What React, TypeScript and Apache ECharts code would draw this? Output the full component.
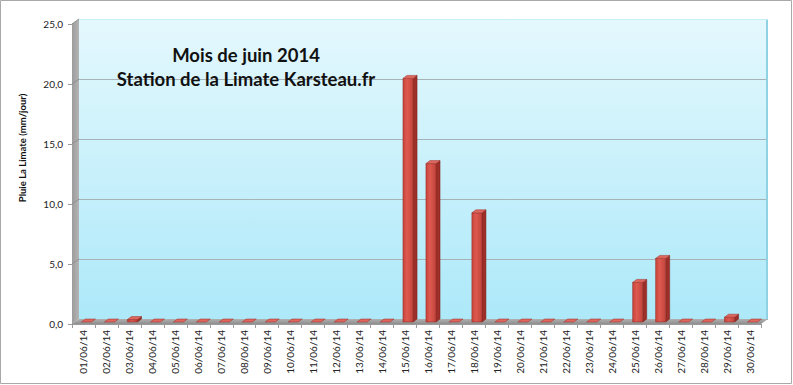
import React, { useEffect, useRef } from "react";
import * as echarts from "echarts";

const dates = [
  "01/06/14", "02/06/14", "03/06/14", "04/06/14", "05/06/14", "06/06/14", "07/06/14", "08/06/14", "09/06/14", "10/06/14",
  "11/06/14", "12/06/14", "13/06/14", "14/06/14", "15/06/14", "16/06/14", "17/06/14", "18/06/14", "19/06/14", "20/06/14",
  "21/06/14", "22/06/14", "23/06/14", "24/06/14", "25/06/14", "26/06/14", "27/06/14", "28/06/14", "29/06/14", "30/06/14",
];
const rain = [
  0, 0, 0.2, 0, 0, 0, 0, 0, 0, 0,
  0, 0, 0, 0, 20.3, 13.2, 0, 9.1, 0, 0,
  0, 0, 0, 0, 3.3, 5.3, 0, 0, 0.4, 0,
];
const yTicks = [0, 5, 10, 15, 20, 25];
const titleLines = ["Mois de juin 2014", "Station de la Limate Karsteau.fr"];
const yAxisName = "Pluie La Limate (mm/jour)";

const W = 793;
const H = 385;
// front plane
const FL = 72, FR = 761, FT = 24, FB = 324;
// depth offset of the back wall
const DX = 7, DY = 5;

export default function App() {
  const ref = useRef<HTMLDivElement>(null);
  useEffect(() => {
    if (!ref.current) return;
    const chart = echarts.init(ref.current, null, { renderer: "svg" });
    const yMax = yTicks[yTicks.length - 1];
    const yPx = (v: number) => FB - ((FB - FT) * v) / yMax;

    const wallLines = yTicks.slice(1).map((t) => ({
      type: "line",
      z: 3,
      shape: { x1: FL, y1: yPx(t), x2: FL + DX, y2: yPx(t) - DY },
      style: { stroke: "#8e8e8e", lineWidth: 1 },
    }));

    const option: any = {
      animation: false,
      backgroundColor: "#ffffff",
      title: {
        text: titleLines.join("\n"),
        left: 241,
        top: 38,
        textAlign: "center",
        textStyle: {
          fontFamily: "Lato",
          fontWeight: "bold",
          fontSize: 18.5,
          lineHeight: 24,
          color: "#111111",
        },
      },
      grid: [
        {
          left: FL,
          top: FT,
          width: FR - FL,
          height: FB - FT,
          containLabel: false,
        },
        {
          left: FL + DX,
          top: FT - DY,
          width: FR - FL,
          height: FB - FT,
          show: true,
          borderWidth: 0,
          backgroundColor: new echarts.graphic.LinearGradient(0, 0, 0, 1, [
            { offset: 0, color: "#e4f8fd" },
            { offset: 1, color: "#ade9f9" },
          ]),
        },
      ],
      xAxis: [
        {
          type: "category",
          gridIndex: 0,
          data: dates,
          boundaryGap: true,
          axisLine: { show: true, lineStyle: { color: "#9a9a9a" } },
          axisTick: { show: true, length: 4, interval: 0, lineStyle: { color: "#9a9a9a" } },
          axisLabel: {
            interval: 0,
            rotate: 90,
            margin: 6,
            fontFamily: "Lato",
            fontSize: 10,
            color: "#222222",
          },
          splitLine: { show: false },
        },
        {
          type: "category",
          gridIndex: 1,
          data: dates,
          show: false,
        },
      ],
      yAxis: [
        {
          type: "value",
          gridIndex: 0,
          min: 0,
          max: yMax,
          interval: 5,
          axisLine: { show: true, lineStyle: { color: "#9a9a9a" } },
          axisTick: { show: true, length: 4, lineStyle: { color: "#9a9a9a" } },
          axisLabel: {
            margin: 9,
            fontFamily: "Lato",
            fontSize: 10,
            color: "#222222",
            formatter: (v: number) => v.toFixed(1).replace(".", ","),
          },
          splitLine: { show: false },
        },
        {
          type: "value",
          gridIndex: 1,
          min: 0,
          max: yMax,
          interval: 5,
          axisLine: { show: false },
          axisTick: { show: false },
          axisLabel: { show: false },
          splitLine: { show: true, lineStyle: { color: "#a6b2b5", width: 1 } },
        },
      ],
      graphic: [
        {
          type: "rect",
          z: -10,
          shape: { x: 0.5, y: 0.5, width: W - 2, height: H - 2 },
          style: { fill: "#ffffff", stroke: "#a8a8a8", lineWidth: 1 },
        },
        {
          type: "polygon",
          z: 2,
          shape: {
            points: [
              [FL, FT],
              [FL + DX, FT - DY],
              [FL + DX, FB - DY],
              [FL, FB],
            ],
          },
          style: {
            fill: new echarts.graphic.LinearGradient(0, 0, 1, 0, [
              { offset: 0, color: "#9c9c9c" },
              { offset: 1, color: "#b4b4b4" },
            ]),
          },
        },
        {
          type: "polygon",
          z: 2,
          shape: {
            points: [
              [FL, FB],
              [FL + DX, FB - DY],
              [FR + DX, FB - DY],
              [FR, FB],
            ],
          },
          style: {
            fill: new echarts.graphic.LinearGradient(0, 0, 0, 1, [
              { offset: 0, color: "#b0b0b0" },
              { offset: 1, color: "#8e8e8e" },
            ]),
          },
        },
        {
          type: "rect",
          z: 2,
          shape: { x: FR + DX - 2, y: FT - DY, width: 2, height: FB - FT },
          style: { fill: "#8fd2e4" },
        },
        {
          type: "line",
          z: 2,
          shape: { x1: FL + DX, y1: FT - DY + 0.5, x2: FR + DX, y2: FT - DY + 0.5 },
          style: { stroke: "#c6eef8", lineWidth: 1 },
        },
        ...wallLines,
        {
          type: "text",
          z: 5,
          x: 22,
          y: 148,
          rotation: Math.PI / 2,
          style: {
            text: yAxisName,
            fontFamily: "Lato",
            fontWeight: "bold",
            fontSize: 9.5,
            fill: "#111111",
            align: "center",
            verticalAlign: "middle",
          },
        },
      ],
      series: [
        {
          type: "custom",
          xAxisIndex: 0,
          yAxisIndex: 0,
          z: 10,
          data: rain.map((v, i) => [i, v]),
          encode: { x: 0, y: 1 },
          renderItem: (params: any, api: any) => {
            const i = api.value(0);
            const v = api.value(1);
            const base = api.coord([i, 0]);
            const top = api.coord([i, v]);
            const bw = api.size([1, 0])[0] * 0.44;
            const ox = 3, oy = -2;
            const dx = 4, dy = 3;
            const x0 = base[0] - bw / 2 + ox;
            const x1 = x0 + bw;
            const yb = base[1] + oy;
            const yt = top[1] + oy;
            const children: any[] = [];
            if (yb - yt > 0.5) {
              children.push({
                type: "polygon",
                shape: { points: [[x1, yt], [x1 + dx, yt - dy], [x1 + dx, yb - dy], [x1, yb]] },
                style: { fill: "#9e2f28", stroke: "#7a221d", lineWidth: 0.5 },
              });
              children.push({
                type: "rect",
                shape: { x: x0, y: yt, width: bw, height: yb - yt },
                style: {
                  fill: new echarts.graphic.LinearGradient(0, 0, 1, 0, [
                    { offset: 0, color: "#c9433a" },
                    { offset: 0.4, color: "#dd5a50" },
                    { offset: 1, color: "#c2423a" },
                  ]),
                  stroke: "#8c2a24",
                  lineWidth: 0.5,
                },
              });
            }
            children.push({
              type: "polygon",
              shape: { points: [[x0, yt], [x1, yt], [x1 + dx, yt - dy], [x0 + dx, yt - dy]] },
              style: { fill: "#e0675d", stroke: "#9a2f28", lineWidth: 0.5 },
            });
            return { type: "group", children };
          },
        },
      ],
    };
    chart.setOption(option);
    return () => chart.dispose();
  }, []);
  return (
    <div
      ref={ref}
      style={{ position: "fixed", left: 0, top: 0, width: W, height: H }}
    />
  );
}
